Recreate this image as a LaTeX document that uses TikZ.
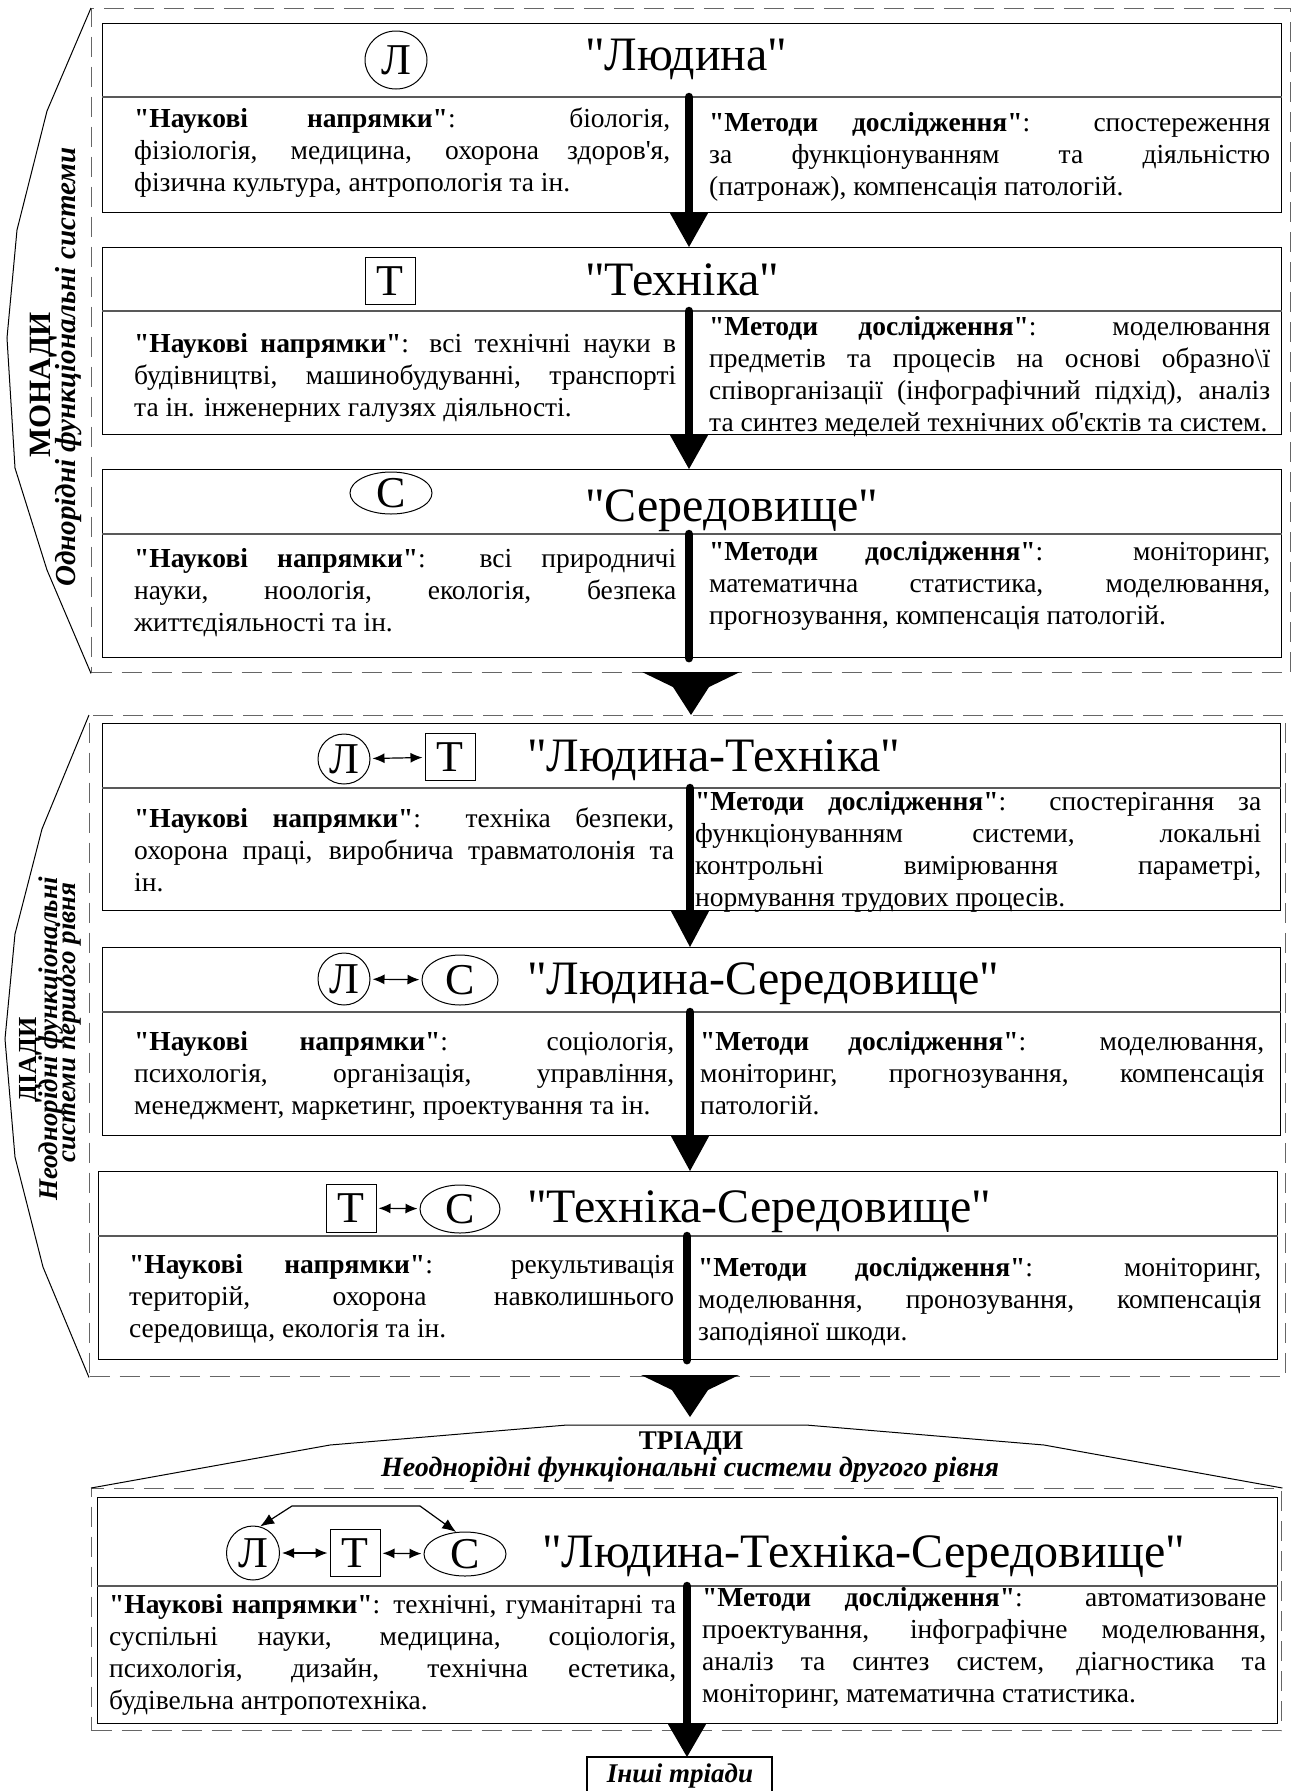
\documentclass[tikz,border=0pt]{standalone}
\usepackage{fontspec}
\newfontfamily\tnr{Liberation Serif}
\usetikzlibrary{arrows.meta,shapes.geometric,calc}
\newcommand\bq[1]{\textbf{"#1"}}
\begin{document}
\tnr\hyphenpenalty=10000 \exhyphenpenalty=10000 \hbadness=10000 \hfuzz=20pt
\begin{tikzpicture}[x=1pt,y=-1pt,
  grp/.style={draw=black!60,dash pattern=on 20pt off 10pt,line width=1.4pt,rectangle,inner sep=0pt,anchor=north west},
  outl/.style={draw=black,line width=1pt},
  box/.style={draw,line width=1.2pt,rectangle,inner sep=0pt,anchor=north west},
  divl/.style={draw=black!65,line width=1.2pt},
  body/.style={font=\fontsize{27.5}{32}\selectfont,align=justify,inner sep=0pt,anchor=west},
  ttl/.style={font=\fontsize{48}{56}\selectfont,anchor=base west,inner sep=0pt},
  sym/.style={font=\fontsize{44}{50}\selectfont,inner sep=0pt,draw,line width=1pt},
  circ/.style={sym,ellipse,minimum width=52pt,minimum height=52pt},
  ell/.style={sym,ellipse,minimum width=82pt,minimum height=44pt},
  sq/.style={sym,rectangle,minimum width=50pt,minimum height=47pt},
  shaft/.style={line width=8.5pt,line cap=round},
  dbl/.style={line width=1.2pt,{Latex[length=12pt,width=10pt]}-{Latex[length=12pt,width=10pt]},shorten <=2pt,shorten >=2pt},
  side/.style={font=\fontsize{31}{30}\selectfont\bfseries,rotate=90,inner sep=0pt,align=center},
  sidei/.style={font=\fontsize{29}{26}\selectfont\bfseries\itshape,rotate=90,inner sep=0pt,align=center},
]
\useasboundingbox (0,0) rectangle (1296,1791);

% ---------- groups
\node[grp,minimum width=1199pt,minimum height=664pt] (g1) at (91,8) {};
\node[grp,minimum width=1196pt,minimum height=661pt] (g2) at (89,715) {};
\node[grp,minimum width=1190pt,minimum height=242pt] (g3) at (91,1488) {};

\draw[outl] (g1.north west) -- (47,111) -- (17,230) -- (7,338) -- (15,468) -- (47,570) -- (g1.south west);
\draw[outl] (g2.north west) -- (42,829) -- (15,934) -- (5,1039) -- (15,1157) -- (43,1267) -- (g2.south west);
\draw[outl] (g3.north west) -- (330,1445) -- (567,1425) -- (806,1425) -- (1044,1445) -- (g3.north east);

\node[side] (l1a) at (44,385) {МОНАДИ};
\node[sidei] (l1b) at (69,367) {Однорідні функціональні системи};
\node[side,font=\fontsize{26}{26}\selectfont\bfseries] (l2a) at (31,1060) {ДІАДИ};
\node[sidei,font=\fontsize{27}{26}\selectfont\bfseries\itshape,anchor=east] (l2b) at (51,877) {Неоднорідні функціональні};
\node[sidei,font=\fontsize{27}{26}\selectfont\bfseries\itshape,anchor=east] (l2c) at (69,882) {системи першого рівня};
\node[font=\fontsize{27}{27}\selectfont\bfseries,inner sep=0pt] (l3a) at (691,1443) {ТРІАДИ};
\node[font=\fontsize{28}{28}\selectfont\bfseries\itshape,inner sep=0pt] (l3b) at (690,1470) {Неоднорідні функціональні системи другого рівня};

% ---------- boxes
\node[box,minimum width=1179pt,minimum height=189pt] (b1) at (102,23) {};
\node[box,minimum width=1179pt,minimum height=187pt] (b2) at (102,247) {};
\node[box,minimum width=1179pt,minimum height=188pt] (b3) at (102,469) {};
\node[box,minimum width=1178pt,minimum height=187pt] (b4) at (102,723) {};
\node[box,minimum width=1178pt,minimum height=188pt] (b5) at (102,947) {};
\node[box,minimum width=1179pt,minimum height=188pt] (b6) at (98,1171) {};
\node[box,minimum width=1180pt,minimum height=226pt] (b7) at (97,1497) {};

\coordinate (d1) at (689,97);
\coordinate (d2) at (689,311);
\coordinate (d3) at (689,534);
\coordinate (d4) at (690,788);
\coordinate (d5) at (690,1012);
\coordinate (d6) at (687,1236);
\coordinate (d7) at (687,1586);
\foreach \i in {1,...,7}{\draw[divl] (b\i.west |- d\i) -- (b\i.east |- d\i);}

% ---------- symbols
\node[circ,minimum width=62pt,minimum height=58pt] (s1) at (396,60) {Л};
\node[sq] (s2) at (390,281) {Т};
\node[ell,minimum height=42pt] (s3) at (391,493) {С};
\node[circ,minimum height=50pt] (s4a) at (344,759) {Л};
\node[sq] (s4b) at (450,757) {Т};
\node[circ] (s5a) at (344,979) {Л};
\node[ell,minimum width=76pt,minimum height=50pt] (s5b) at (460,980) {С};
\node[sq,minimum height=48pt] (s6a) at (351,1208) {Т};
\node[ell,minimum width=80pt,minimum height=48pt] (s6b) at (460,1209) {С};
\node[circ,minimum width=53pt,minimum height=54pt] (s7a) at (253,1553) {Л};
\node[sq] (s7b) at (355,1553) {Т};
\node[ell] (s7c) at (465,1554) {С};
\draw[dbl] (s4a) -- (s4b);
\draw[dbl] (s5a) -- (s5b);
\draw[dbl] (s6a) -- (s6b);
\draw[dbl] (s7a) -- (s7b);
\draw[dbl] (s7b) -- (s7c);
\coordinate (k1) at (292,1506);
\coordinate (k2) at (420,1506);
\draw[line width=1.2pt,{Latex[length=14pt,width=11pt]}-{Latex[length=14pt,width=11pt]}] (s7a.75) -- (k1) -- (k2) -- (s7c.112);

% ---------- titles
\node[ttl] (t1) at (585,70) {"Людина"};
\node[ttl] (t2) at (585,295) {"Техніка"};
\node[ttl] (t3) at (585,521) {"Середовище"};
\node[ttl] (t4) at (527,771) {"Людина-Техніка"};
\node[ttl] (t5) at (527,994) {"Людина-Середовище"};
\node[ttl] (t6) at (527,1222) {"Техніка-Середовище"};
\node[ttl] (t7) at (542,1567) {"Людина-Техніка-Середовище"};

% ---------- body texts
\node[body,text width=536pt] (n1) at (134,153) {\bq{Наукові напрямки}: біологія,\linebreak фізіологія, медицина, охорона здоров'я,\linebreak фізична культура, антропологія та ін.};
\node[body,text width=561pt] (m1) at (709,157) {\bq{Методи дослідження}: спостереження\linebreak за функціонуванням та діяльністю\linebreak (патронаж), компенсація патологій.};
\node[body,text width=542pt] (n2) at (134,378) {\bq{Наукові напрямки}: всі технічні науки в\linebreak будівництві, машинобудуванні, транспорті\linebreak та ін. інженерних галузях діяльності.};
\node[body,text width=561pt] (m2) at (709,377) {\bq{Методи дослідження}: моделювання\linebreak предметів та процесів на основі образно\textbackslash ї\linebreak співорганізації (інфографічний підхід), аналіз\linebreak та синтез меделей технічних об'єктів та систем.};
\node[body,text width=542pt] (n3) at (134,593) {\bq{Наукові напрямки}: всі природничі\linebreak науки, ноологія, екологія, безпека\linebreak життєдіяльності та ін.};
\node[body,text width=561pt] (m3) at (709,586) {\bq{Методи дослідження}: моніторинг,\linebreak математична статистика, моделювання,\linebreak прогнозування, компенсація патологій.};
\node[body,text width=540pt] (n4) at (134,850) {\bq{Наукові напрямки}: техніка безпеки,\linebreak охорона праці, виробнича травматолонія та\linebreak ін.};
\node[body,text width=566pt] (m4) at (695,852) {\bq{Методи дослідження}: спостерігання за\linebreak функціонуванням системи, локальні\linebreak контрольні вимірювання параметрі,\linebreak нормування трудових процесів.};
\node[body,text width=540pt] (n5) at (134,1076) {\bq{Наукові напрямки}: соціологія,\linebreak психологія, організація, управління,\linebreak менеджмент, маркетинг, проектування та ін.};
\node[body,text width=564pt] (m5) at (700,1073) {\bq{Методи дослідження}: моделювання,\linebreak моніторинг, прогнозування, компенсація\linebreak патологій.};
\node[body,text width=545pt] (n6) at (129,1299) {\bq{Наукові напрямки}: рекультивація\linebreak територій, охорона навколишнього\linebreak середовища, екологія та ін.};
\node[body,text width=563pt] (m6) at (698,1302) {\bq{Методи дослідження}: моніторинг,\linebreak моделювання, пронозування, компенсація\linebreak заподіяної шкоди.};
\node[body,text width=567pt] (n7) at (109,1655) {\bq{Наукові напрямки}: технічні, гуманітарні та\linebreak суспільні науки, медицина, соціологія,\linebreak психологія, дизайн, технічна естетика,\linebreak будівельна антропотехніка.};
\node[body,text width=564pt] (m7) at (702,1648) {\bq{Методи дослідження}: автоматизоване\linebreak проектування, інфографічне моделювання,\linebreak аналіз та синтез систем, діагностика та\linebreak моніторинг, математична статистика.};

% ---------- last box
\coordinate (x1) at (587,1791);
\coordinate (x2) at (772,1791);
\node[font=\fontsize{27}{27}\selectfont\bfseries\itshape,inner sep=0pt] (other) at (680,1776) {Інші тріади};
\draw[line width=1.2pt] (x1) -- (587,1757) -- (772,1757) -- (x2);

% ---------- shafts and arrowheads
\foreach \i/\j in {1/2,2/3,4/5,5/6}{
  \draw[shaft] (d\i) -- (d\i |- b\i.south);
  \fill ($(d\i |- b\i.south)+(-19,0)$) -- ($(d\i |- b\i.south)+(19,0)$) -- (d\i |- b\j.north) -- cycle;
}
\draw[shaft] (d3) -- (d3 |- b3.south);
\draw[shaft] (d6) -- (d6 |- b6.south);
\draw[shaft] (d7) -- (d7 |- b7.south);
\fill ($(d7 |- b7.south)+(-19,0)$) -- ($(d7 |- b7.south)+(19,0)$) -- (d7 |- 0,1757) -- cycle;

% funnels between groups
\coordinate (f1) at (691,672);
\coordinate (f2) at (690,1375);
\fill ($(f1)+(-49,0)$) -- ($(f1)+(49,0)$) -- ($(f1)+(18,15)$) -- (f1 |- g2.north) -- ($(f1)+(-18,15)$) -- cycle;
\fill ($(f2)+(-49,0)$) -- ($(f2)+(49,0)$) -- ($(f2)+(18,15)$) -- (690,1417) -- ($(f2)+(-18,15)$) -- cycle;
\end{tikzpicture}
\end{document}
